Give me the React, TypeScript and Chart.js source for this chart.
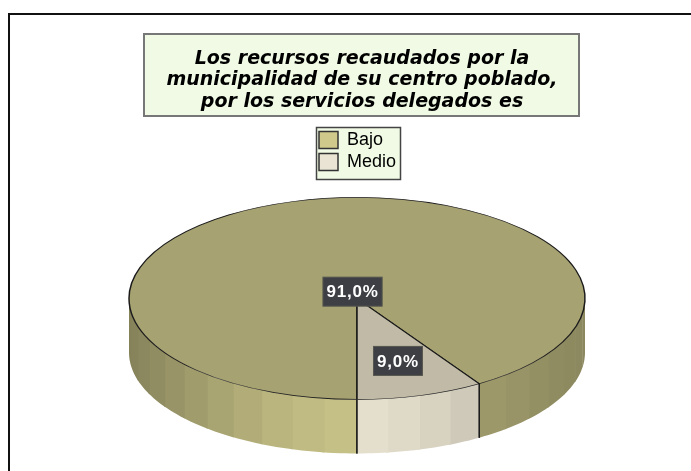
import React, { useEffect, useRef } from "react";
import { Chart, registerables } from "chart.js";

Chart.register(...registerables);

const categories = ["Bajo", "Medio"];
const values = [91, 9];
const valueLabels = ["91,0%", "9,0%"];
const titleLines = [
  "Los recursos recaudados por la",
  "municipalidad de su centro poblado,",
  "por los servicios delegados es",
];
const topColors = ["#a7a272", "#c0baa6"];
const swatchColors = ["#cfca8c", "#e9e4d4"];
const wallRgb = [
  [198, 193, 134],
  [229, 223, 205],
];
const labelRadius = [0.07, 0.644];

const SQUASH = 101 / 228;
const DEPTH = 54;

const shade = (rgb: number[], f: number) =>
  `rgb(${rgb.map((c) => Math.round(c * f)).join(",")})`;

const piePlugin = {
  id: "pie3d",
  afterLayout(chart: any) {
    const l = chart.legend;
    const w = l.width;
    const h = l.height;
    l.left = 315;
    l.right = 315 + w;
    l.top = 127;
    l.bottom = 127 + h;
    const t = chart.titleBlock;
    t.left = 145;
    t.right = 579;
  },
  beforeDraw(chart: any) {
    const { ctx } = chart;
    ctx.save();
    ctx.fillStyle = "#ffffff";
    ctx.fillRect(0, 0, chart.width, chart.height);
    ctx.strokeStyle = "#111111";
    ctx.lineWidth = 2;
    ctx.beginPath();
    ctx.moveTo(9, 471);
    ctx.lineTo(9, 14);
    ctx.lineTo(691, 14);
    ctx.stroke();
    // title box
    ctx.fillStyle = "#f0fae4";
    ctx.strokeStyle = "#777777";
    ctx.lineWidth = 2;
    ctx.fillRect(144, 34, 435, 82);
    ctx.strokeRect(144, 34, 435, 82);
    // legend box
    ctx.fillStyle = "#f0fae4";
    ctx.strokeStyle = "#444444";
    ctx.lineWidth = 1.5;
    ctx.fillRect(316.5, 127.5, 84, 52);
    ctx.strokeRect(316.5, 127.5, 84, 52);
    ctx.restore();
  },
  beforeDatasetsDraw(chart: any) {
    const { ctx } = chart;
    const arcs = chart.getDatasetMeta(0).data;
    const cx = arcs[0].x;
    const cy = arcs[0].y;
    const r = arcs[0].outerRadius;
    arcs.forEach((arc: any, i: number) => {
      const step = Math.PI / 22;
      for (let a = arc.startAngle; a < arc.endAngle; a += step) {
        const b = Math.min(a + step + 0.01, arc.endAngle);
        const lo = Math.max(a, 0);
        const end = Math.min(b, Math.PI);
        const wrapLo = Math.max(a, 2 * Math.PI);
        const wrapHi = Math.min(b, 3 * Math.PI);
        const segs = [
          [lo, end],
          [wrapLo, wrapHi],
        ];
        segs.forEach(([s, e]) => {
          if (e <= s) return;
          const mid = (s + e) / 2;
          const off = Math.abs(Math.cos(mid));
          const f =
            i === 0 && Math.cos(mid) > 0
              ? 0.92 - 0.22 * off
              : 1 - 0.33 * Math.pow(off, 1.6);
          ctx.fillStyle = shade(wallRgb[i], f);
          ctx.beginPath();
          const n = 6;
          for (let k = 0; k <= n; k++) {
            const t = s + ((e - s) * k) / n;
            ctx.lineTo(cx + r * Math.cos(t), cy + r * SQUASH * Math.sin(t));
          }
          for (let k = n; k >= 0; k--) {
            const t = s + ((e - s) * k) / n;
            ctx.lineTo(cx + r * Math.cos(t), cy + r * SQUASH * Math.sin(t) + DEPTH);
          }
          ctx.closePath();
          ctx.fill();
        });
      }
      // vertical edges on the visible wall
      [arc.startAngle, arc.endAngle].forEach((t: number) => {
        if (Math.sin(t) > 0.01) {
          const x = cx + r * Math.cos(t);
          const y = cy + r * SQUASH * Math.sin(t);
          ctx.strokeStyle = "#1a1a1a";
          ctx.lineWidth = 1.5;
          ctx.beginPath();
          ctx.moveTo(x, y);
          ctx.lineTo(x, y + DEPTH);
          ctx.stroke();
        }
      });
    });
    ctx.save();
    ctx.translate(cx, cy);
    ctx.scale(1, SQUASH);
    ctx.translate(-cx, -cy);
  },
  afterDatasetsDraw(chart: any) {
    const { ctx } = chart;
    ctx.restore();
    const arcs = chart.getDatasetMeta(0).data;
    ctx.save();
    ctx.font = "bold 17px 'Liberation Sans', Arial, sans-serif";
    (ctx as any).letterSpacing = "0.8px";
    ctx.textAlign = "center";
    ctx.textBaseline = "middle";
    arcs.forEach((arc: any, i: number) => {
      const mid = (arc.startAngle + arc.endAngle) / 2;
      const rr = arc.outerRadius * labelRadius[i];
      const x = arc.x + rr * Math.cos(mid);
      const y = arc.y + rr * SQUASH * Math.sin(mid);
      const w = ctx.measureText(valueLabels[i]).width + 7;
      const h = 29;
      ctx.fillStyle = "#3d3f44";
      ctx.strokeStyle = "#55564f";
      ctx.lineWidth = 1;
      ctx.fillRect(x - w / 2, y - h / 2, w, h);
      ctx.strokeRect(x - w / 2, y - h / 2, w, h);
      ctx.fillStyle = "#ffffff";
      ctx.fillText(valueLabels[i], x, y + 1);
    });
    ctx.restore();
  },
};

export default function App() {
  const ref = useRef<HTMLCanvasElement>(null);
  useEffect(() => {
    const chart = new Chart(ref.current as HTMLCanvasElement, {
      type: "pie",
      data: {
        labels: categories,
        datasets: [
          {
            data: values,
            backgroundColor: topColors,
            borderColor: "#1a1a1a",
            borderWidth: 1.5,
            radius: 228,
            clip: false,
          } as any,
        ],
      },
      options: {
        responsive: false,
        animation: false,
        rotation: 180,
        layout: { padding: { left: 129, right: 691 - 585, top: 0, bottom: 471 - 399 } },
        plugins: {
          tooltip: { enabled: false },
          title: {
            display: true,
            text: titleLines,
            color: "#000000",
            font: {
              family: "'DejaVu Sans', sans-serif",
              size: 19,
              weight: "bold",
              style: "italic",
              lineHeight: 1.13,
            },
            padding: { top: 48, bottom: 85.5 },
          },
          legend: {
            display: true,
            position: "chartArea",
            align: "start",
            labels: {
              boxWidth: 19,
              boxHeight: 17,
              padding: 4,
              color: "#222222",
              font: { family: "'Liberation Sans', Arial, sans-serif", size: 18 },
              generateLabels: () =>
                categories.map((text, i) => ({
                  text,
                  fillStyle: swatchColors[i],
                  strokeStyle: "#333333",
                  lineWidth: 1.5,
                  index: i,
                })),
            },
          } as any,
        },
      },
      plugins: [piePlugin],
    });
    return () => chart.destroy();
  }, []);
  return (
    <div style={{ position: "absolute", left: 0, top: 0, width: 691, height: 471 }}>
      <canvas ref={ref} width={691} height={471} style={{ display: "block" }} />
    </div>
  );
}
